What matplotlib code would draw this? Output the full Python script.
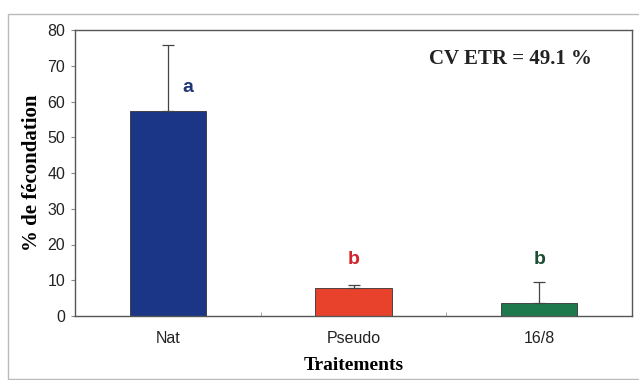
import matplotlib.pyplot as plt
from matplotlib.patches import Rectangle

# data
traitements = ['Nat', 'Pseudo', '16/8']
fecondation = [57.3, 7.9, 3.5]
erreur = [18.5, 0.7, 6.1]
lettres = ['a', 'b', 'b']
couleurs_barres = ['#1b3687', '#e8422c', '#1e7a4c']
couleurs_lettres = ['#1f3577', '#d4232b', '#1d4d33']
yticks = [0, 10, 20, 30, 40, 50, 60, 70, 80]

fig = plt.figure(figsize=(6.39, 3.80), dpi=100)
ax = fig.add_axes([75 / 639, 1 - 316 / 380, 557 / 639, 286 / 380])

x = list(range(len(traitements)))
ax.bar(x, fecondation, width=0.41, color=couleurs_barres,
       edgecolor='#333333', linewidth=0.6, zorder=2)
ax.errorbar(x, fecondation, yerr=[[0] * len(erreur), erreur], fmt='none',
            ecolor='#444444', elinewidth=0.9, capsize=4, capthick=0.9, zorder=3)

for xi, lt, c in zip(x, lettres, couleurs_lettres):
    if lt == 'a':
        ax.text(xi + 0.11, 63.8, lt, color=c, fontsize=14, fontweight='bold',
                ha='center', va='center', family='Liberation Sans')
    else:
        ax.text(xi, 15.8, lt, color=c, fontsize=14, fontweight='bold',
                ha='center', va='center', family='Liberation Sans')

ax.set_xlim(-0.5, 2.5)
ax.set_ylim(0, 80)
ax.set_yticks(yticks)
ax.set_xticks(x)
ax.set_xticklabels(traitements)
ax.set_xticks([0.5, 1.5], minor=True)
ax.tick_params(axis='x', which='major', length=0, pad=11)
ax.tick_params(axis='x', which='minor', length=3, direction='in', color='#999999')
ax.tick_params(axis='y', length=3, color='#888888', pad=4)
for lab in ax.get_xticklabels() + ax.get_yticklabels():
    lab.set_family('Liberation Sans')
    lab.set_fontsize(11.5)
    lab.set_color('#222222')

for s in ax.spines.values():
    s.set_color('#555555')
    s.set_linewidth(1.0)

ax.set_ylabel('% de fécondation', family='Liberation Serif', fontsize=15,
              fontweight='bold', labelpad=4)
ax.set_xlabel('Traitements', family='Liberation Serif', fontsize=14,
              fontweight='bold', labelpad=8)

ax.text(0.928, 0.9, 'CV ETR = 49.1 %', transform=ax.transAxes, ha='right',
        va='center', family='Liberation Serif', fontsize=15, fontweight='bold',
        color='#222222')

# outer frame of the pasted figure
fig.patches.append(Rectangle((8 / 639, 1 / 380), 640 / 639, 365 / 380,
                             transform=fig.transFigure, fill=False,
                             edgecolor='#bbbbbb', linewidth=1.0))

fig.savefig('out.png', dpi=100)
